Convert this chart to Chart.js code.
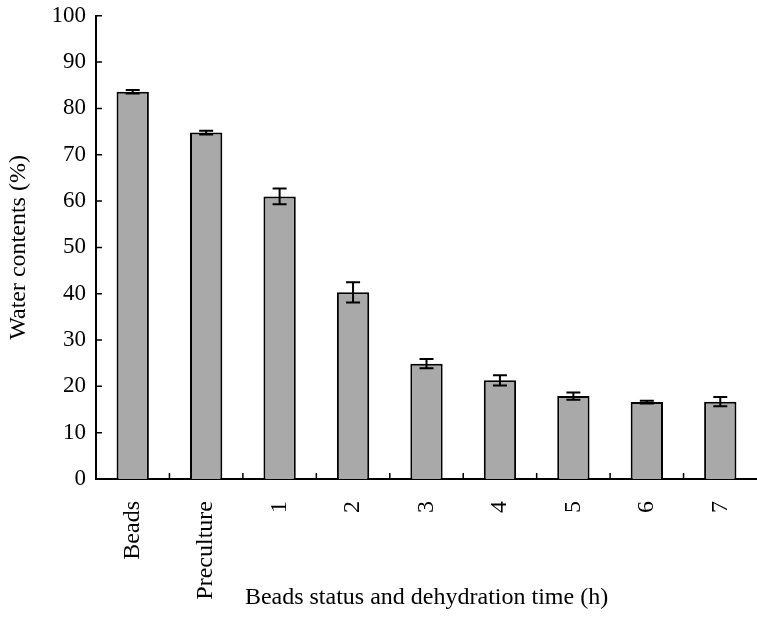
<!DOCTYPE html>
<html>
<head>
<meta charset="utf-8">
<script src="https://cdn.jsdelivr.net/npm/chart.js@4"></script>
<style>
  body { margin: 0; background: #fff; }
  canvas { display: block; }
</style>
</head>
<body>
<canvas id="waterChart" width="757" height="632"></canvas>
<script>
// values
const categories = ['Beads', 'Preculture', '1', '2', '3', '4', '5', '6', '7'];
const waterContent = [83.6, 74.8, 61.0, 40.3, 24.9, 21.3, 17.9, 16.6, 16.7];
const errors = [0.4, 0.4, 1.7, 2.2, 1.0, 1.1, 0.8, 0.3, 1.0];
const yTicks = [0, 10, 20, 30, 40, 50, 60, 70, 80, 90, 100];

const serif = "'Liberation Serif', 'Times New Roman', serif";

// error bars, drawn from the y scale
const errorBars = {
    id: 'errorBars',
    afterDatasetsDraw(chart) {
        const ctx = chart.ctx;
        const y = chart.scales.y;
        const meta = chart.getDatasetMeta(0);
        ctx.save();
        ctx.strokeStyle = '#000';
        ctx.lineWidth = 2;
        meta.data.forEach((bar, i) => {
            const top = y.getPixelForValue(waterContent[i] + errors[i]);
            const bottom = y.getPixelForValue(waterContent[i] - errors[i]);
            ctx.beginPath();
            ctx.moveTo(bar.x, top);
            ctx.lineTo(bar.x, bottom);
            ctx.moveTo(bar.x - 7, top);
            ctx.lineTo(bar.x + 7, top);
            ctx.moveTo(bar.x - 7, bottom);
            ctx.lineTo(bar.x + 7, bottom);
            ctx.stroke();
        });
        ctx.restore();
    }
};

// small inward tick marks like the original axes
const innerTicks = {
    id: 'innerTicks',
    afterDraw(chart) {
        const ctx = chart.ctx;
        const { x, y } = chart.scales;
        const area = chart.chartArea;
        ctx.save();
        ctx.strokeStyle = '#000';
        ctx.lineWidth = 1.5;
        ctx.beginPath();
        y.ticks.forEach(t => {
            const py = y.getPixelForValue(t.value);
            ctx.moveTo(area.left, py);
            ctx.lineTo(area.left + 6, py);
        });
        for (let i = 1; i < categories.length; i++) {
            const px = (x.getPixelForValue(i - 1) + x.getPixelForValue(i)) / 2;
            ctx.moveTo(px, area.bottom);
            ctx.lineTo(px, area.bottom - 6);
        }
        ctx.stroke();
        ctx.restore();
    }
};

new Chart(document.getElementById('waterChart'), {
    type: 'bar',
    data: {
        labels: categories,
        datasets: [{
            data: waterContent,
            backgroundColor: '#a9a9a9',
            borderColor: '#000',
            borderWidth: 2,
            categoryPercentage: 1,
            barPercentage: 0.44
        }]
    },
    options: {
        responsive: false,
        animation: false,
        layout: { padding: { top: 15, right: 0, left: 0, bottom: 20 } },
        plugins: {
            legend: { display: false },
            tooltip: { enabled: false }
        },
        scales: {
            x: {
                grid: { display: false },
                border: { display: true, color: '#000', width: 2 },
                ticks: {
                    color: '#000',
                    font: { family: serif, size: 24 },
                    minRotation: 90,
                    maxRotation: 90,
                    autoSkip: false,
                    padding: 14
                },
                title: {
                    display: true,
                    text: 'Beads status and dehydration time (h)',
                    color: '#000',
                    font: { family: serif, size: 24 },
                    padding: { top: 0, bottom: 0 }
                },
                afterFit(scale) {
                    scale.height = 133;
                    scale.paddingRight = 0; // axis runs to the right edge
                }
            },
            y: {
                min: 0,
                max: 100,
                afterBuildTicks(scale) {
                    scale.ticks = yTicks.map(v => ({ value: v }));
                },
                grid: { display: false },
                border: { display: true, color: '#000', width: 2 },
                ticks: {
                    color: '#000',
                    font: { family: serif, size: 23 },
                    padding: 2
                },
                title: {
                    display: true,
                    text: 'Water contents (%)',
                    color: '#000',
                    font: { family: serif, size: 24 },
                    padding: { bottom: 2 }
                },
                afterFit(scale) { scale.width = 96; }
            }
        }
    },
    plugins: [errorBars, innerTicks]
});
</script>
</body>
</html>
